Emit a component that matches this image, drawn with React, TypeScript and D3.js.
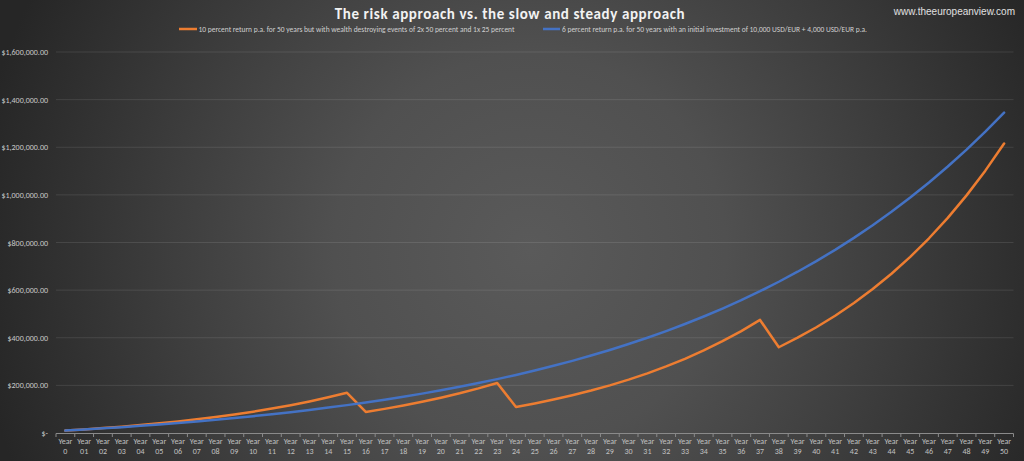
import React from "react";
import * as d3 from "d3";

const years: string[] = ["0", "01", "02", "03", "04", "05", "06", "07", "08", "09", "10", "11", "12", "13", "14", "15", "16", "17", "18", "19", "20", "21", "22", "23", "24", "25", "26", "27", "28", "29", "30", "31", "32", "33", "34", "35", "36", "37", "38", "39", "40", "41", "42", "43", "44", "45", "46", "47", "48", "49", "50"];

const riskySeries: number[] = [10000, 15000, 20500, 26550, 33205, 40526, 48578, 57436, 67180, 77898, 89687, 102656, 116922, 132614, 149875, 168863, 88431, 101274, 115402, 130942, 148036, 166840, 187524, 210276, 109138, 124052, 140457, 158503, 178353, 200188, 224207, 250628, 279691, 311660, 346826, 385508, 428059, 474865, 360149, 400164, 444180, 492598, 545858, 604444, 668888, 739777, 817755, 903530, 997883, 1101672, 1215839];

const steadySeries: number[] = [10000, 14600, 19476, 24645, 30123, 35931, 42087, 48612, 55529, 62861, 70633, 78871, 87603, 96859, 106671, 117071, 128095, 139781, 152168, 165298, 179216, 193969, 209607, 226184, 243755, 262380, 282123, 303050, 325233, 348747, 373672, 400092, 428098, 457783, 489250, 522605, 557961, 595439, 635165, 677275, 721911, 769226, 819380, 872542, 928895, 988628, 1051946, 1119063, 1190207, 1265620, 1345557];

const yTicks: number[] = [0, 200000, 400000, 600000, 800000, 1000000, 1200000, 1400000, 1600000];

const seriesNames: string[] = [
  "10 percent return p.a. for 50 years but with wealth destroying events of 2x 50 percent and 1x 25 percent",
  "6 percent return p.a. for 50 years with an initial investment of 10,000 USD/EUR + 4,000 USD/EUR p.a.",
];
const seriesColors: string[] = ["#ED7D31", "#4472C4"];

const W = 1024;
const H = 461;

export default function App() {
  const x = d3.scaleBand<string>().domain(years).range([56, 1013.5]).padding(0);
  const y = d3.scaleLinear().domain([0, 1600000]).range([433, 52]);
  const cx = (d: string) => (x(d) as number) + x.bandwidth() / 2;
  const line = d3
    .line<number>()
    .x((_, i) => cx(years[i]))
    .y((v) => y(v));
  const fmt = (v: number) => (v === 0 ? "$-" : "$" + d3.format(",.2f")(v));
  const font = "Calibri, Carlito, 'Open Sans', 'Noto Sans', sans-serif";
  const legendLine = [[179, 197], [543, 560]];
  const legendText = [[198.5, 316], [562, 305]];
  const series = [riskySeries, steadySeries];

  return (
    <svg width={W} height={H} style={{ position: "fixed", left: 0, top: 0 }} fontFamily={font}>
      <defs>
        <radialGradient id="bg" cx="530" cy="250" r="560" gradientUnits="userSpaceOnUse">
          <stop offset="0" stopColor="#5a5a5a" />
          <stop offset="0.35" stopColor="#505050" />
          <stop offset="0.65" stopColor="#3d3d3d" />
          <stop offset="1" stopColor="#262626" />
        </radialGradient>
      </defs>
      <rect x={0} y={0} width={W} height={H} fill="#262626" />
      <rect x={0} y={0} width={W} height={H} fill="url(#bg)" />

      <text x={510} y={19} textAnchor="middle" fill="#f2f2f2" fontSize={15} fontWeight="bold" letterSpacing={0.6}>
        The risk approach vs. the slow and steady approach
      </text>
      <text x={1015} y={15} textAnchor="end" fill="#e0e0e0" fontSize={10} fontFamily="'Liberation Sans', Arial, sans-serif">
        www.theeuropeanview.com
      </text>

      {seriesNames.map((n, i) => (
        <g key={n}>
          <line x1={legendLine[i][0]} x2={legendLine[i][1]} y1={29} y2={29} stroke={seriesColors[i]} strokeWidth={2.5} />
          <text
            x={legendText[i][0]}
            y={31.5}
            fill="#d0d0d0"
            fontSize={7.5}
            textLength={legendText[i][1]}
            lengthAdjust="spacingAndGlyphs"
          >
            {n}
          </text>
        </g>
      ))}

      {yTicks.map((t) => (
        <g key={t}>
          {t > 0 && <line x1={56} x2={1013.5} y1={y(t)} y2={y(t)} stroke="#ffffff" strokeOpacity={0.1} strokeWidth={1} />}
          <text x={48} y={y(t) + 3} textAnchor="end" fill="#c8c8c8" fontSize={8}>
            {fmt(t)}
          </text>
        </g>
      ))}

      <line x1={56} x2={1013.5} y1={433.5} y2={433.5} stroke="#8a8a8a" strokeWidth={1} />
      {years.map((d) => (
        <line key={"t" + d} x1={x(d) as number} x2={x(d) as number} y1={433.5} y2={437} stroke="#8a8a8a" />
      ))}
      <line x1={1013.5} x2={1013.5} y1={433.5} y2={437} stroke="#8a8a8a" />
      {years.map((d) => (
        <g key={"l" + d}>
          <text x={cx(d)} y={444} textAnchor="middle" fill="#c0c0c0" fontSize={8}>
            Year
          </text>
          <text x={cx(d)} y={454} textAnchor="middle" fill="#c0c0c0" fontSize={8}>
            {d}
          </text>
        </g>
      ))}

      {series.map((s, i) => (
        <path key={i} d={line(s) as string} fill="none" stroke={seriesColors[i]} strokeWidth={2.5} strokeLinejoin="round" strokeLinecap="round" />
      ))}
    </svg>
  );
}
